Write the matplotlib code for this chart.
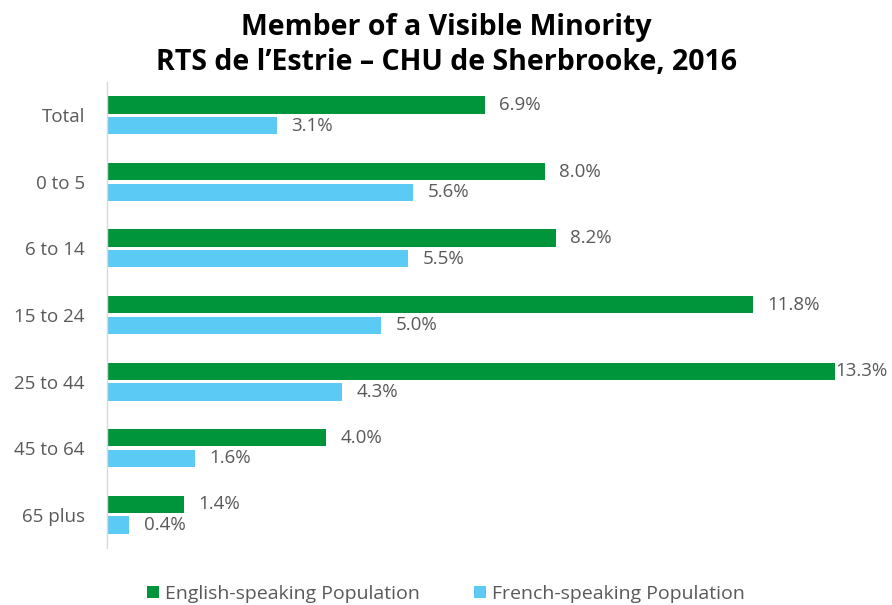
import matplotlib
matplotlib.use("Agg")
import matplotlib.pyplot as plt
import numpy as np

categories = ["Total", "0 to 5", "6 to 14", "15 to 24", "25 to 44", "45 to 64", "65 plus"]
english = [6.9, 8.0, 8.2, 11.8, 13.3, 4.0, 1.4]
french = [3.1, 5.6, 5.5, 5.0, 4.3, 1.6, 0.4]
series_names = ["English-speaking Population", "French-speaking Population"]

green = "#00953A"
blue = "#5BCBF5"
gray = "#595959"

plt.rcParams['font.family'] = ['Open Sans', 'DejaVu Sans']

fig = plt.figure(figsize=(8.92, 6.05), dpi=100)
W, H = 892, 605
left, right, top, bottom = 107, 873, 82, 548
ax = fig.add_axes([left / W, 1 - bottom / H, (right - left) / W, (bottom - top) / H])

y = np.arange(len(categories))
h = 0.26
off = 0.155
ax.barh(y - off, english, height=h, color=green, label=series_names[0])
ax.barh(y + off, french, height=h, color=blue, label=series_names[1])

for yi, v in zip(y, english):
    ax.text(v + 0.27 if v < 13 else v + 0.02, yi - off, f"{v:.1f}%", va="center", ha="left",
            fontsize=13.5, color=gray)
for yi, v in zip(y, french):
    ax.text(v + 0.27, yi + off, f"{v:.1f}%", va="center", ha="left", fontsize=13.5, color=gray)

ax.set_xlim(0, 14)
ax.set_ylim(len(categories) - 0.5, -0.5)
ax.set_yticks(y)
ax.set_yticklabels(categories, fontsize=13.5, color=gray)
ax.tick_params(axis="y", length=0, pad=16)
ax.set_xticks([])
for s in ["top", "right", "bottom"]:
    ax.spines[s].set_visible(False)
ax.spines["left"].set_color("#D9D9D9")
ax.spines["left"].set_linewidth(1.0)

fig.text(0.5, 1 - 27 / H, "Member of a Visible Minority", ha="center", va="center",
         fontsize=20.5, fontweight="bold", color="black")
fig.text(0.5, 1 - 63 / H, "RTS de l\u2019Estrie \u2013 CHU de Sherbrooke, 2016", ha="center", va="center",
         fontsize=20.5, fontweight="bold", color="black")

handles, labels = ax.get_legend_handles_labels()
fig.legend(handles, labels, loc="center", bbox_to_anchor=(0.5, 1 - 594 / H), ncol=2, frameon=False,
           fontsize=14, labelcolor=gray, handlelength=0.6, handleheight=0.6, handletextpad=0.3,
           columnspacing=2.8)

fig.savefig("out.png", dpi=100)
